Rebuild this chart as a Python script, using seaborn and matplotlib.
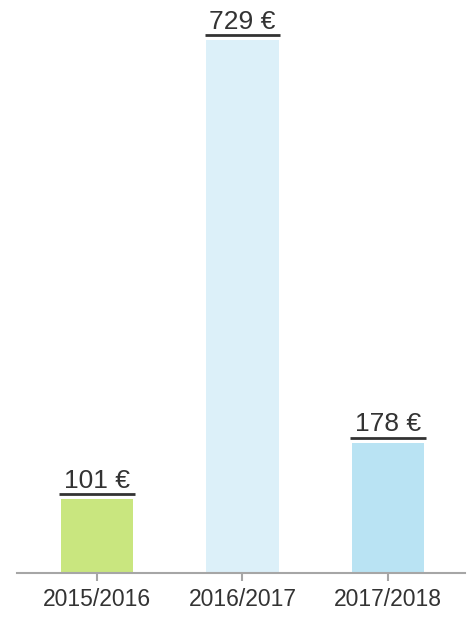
import seaborn as sns
import pandas as pd
import matplotlib.pyplot as plt

seasons = ["2015/2016", "2016/2017", "2017/2018"]
values = [101, 729, 178]
colors = ["#c9e67f", "#dcf0f9", "#b9e3f3"]

df = pd.DataFrame({"season": seasons, "value": values})

sns.set_style("white")
plt.rcParams["font.family"] = ["Liberation Sans", "DejaVu Sans"]

fig = plt.figure(figsize=(4.67, 6.21), dpi=100)
ax = fig.add_axes([17 / 467, 48 / 621, 448 / 467, 570 / 621])

sns.barplot(data=df, x="season", y="value", hue="season",
            palette=colors, width=0.5, saturation=1, linewidth=0,
            legend=False, ax=ax)

ax.set_xlim(-0.55, 2.53)
ax.set_ylim(0, 780)

# underline + value label above each bar
for i, v in enumerate(values):
    ax.hlines(v + 7, i - 0.26, i + 0.26, color="#333333", linewidth=2)
    ax.annotate(f"{v} €", (i, v + 7), xytext=(0, 1), textcoords="offset points",
                ha="center", va="bottom", fontsize=19, color="#333333")

for s in ["top", "right", "left"]:
    ax.spines[s].set_visible(False)
ax.spines["bottom"].set_color("#a6a6a6")
ax.spines["bottom"].set_linewidth(1.5)
ax.set_yticks([])
ax.set_xlabel("")
ax.set_ylabel("")
ax.tick_params(axis="x", bottom=True, direction="inout", length=12, width=1.5,
               color="#a6a6a6", labelsize=16.5, labelcolor="#333333", pad=5)

fig.savefig("out.png", dpi=100)
